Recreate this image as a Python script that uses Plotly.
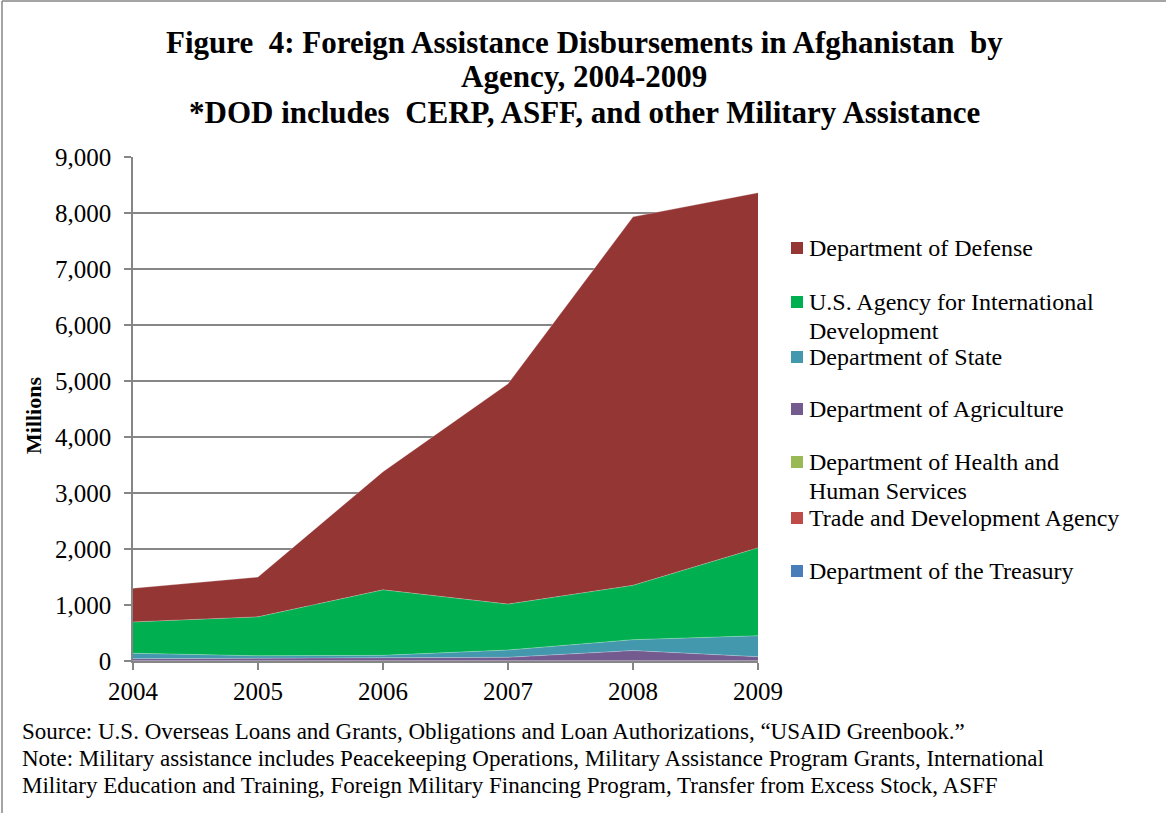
import plotly.graph_objects as go

years = [2004, 2005, 2006, 2007, 2008, 2009]
year_labels = ["2004", "2005", "2006", "2007", "2008", "2009"]

# values in millions
treasury    = [0, 0, 0, 0, 0, 0]
trade_dev   = [1, 1, 1, 1, 1, 1]
hhs         = [3, 3, 3, 3, 3, 3]
agriculture = [37, 42, 52, 62, 182, 72]
state       = [97, 48, 45, 130, 195, 375]
usaid       = [560, 695, 1170, 820, 970, 1570]
defense     = [600, 710, 2110, 3935, 6580, 6340]

y_ticks = [0, 1000, 2000, 3000, 4000, 5000, 6000, 7000, 8000, 9000]

series = [
    ("Department of the Treasury", treasury, "#4A7EBB"),
    ("Trade and Development Agency", trade_dev, "#BE4B48"),
    ("Department of Health and Human Services", hhs, "#98B954"),
    ("Department of Agriculture", agriculture, "#735A8F"),
    ("Department of State", state, "#4398AE"),
    ("U.S. Agency for International Development", usaid, "#00B050"),
    ("Department of Defense", defense, "#943634"),
]

fig = go.Figure()
for name, vals, col in series:
    fig.add_trace(go.Scatter(
        x=years, y=vals, name=name, stackgroup="one",
        mode="lines", line=dict(width=0.6, color="rgba(255,255,255,0.45)"),
        fillcolor=col, showlegend=False, hoverinfo="x+y+name"))

# plot area in pixels
L, R, T, B = 133, 758, 157, 661
W, H = 1166, 813
pw, ph = R - L, B - T

def px_x(px):
    return (px - L) / pw

def px_y(py):
    return (B - py) / ph

serif = "Liberation Serif, Times New Roman, serif"

annotations = []
shapes = []

# title lines
title_lines = [
    ("<b>Figure  4: Foreign Assistance Disbursements in Afghanistan  by</b>", 43),
    ("<b>Agency, 2004-2009</b>", 77),
    ("<b>*DOD includes  CERP, ASFF, and other Military Assistance</b>", 112),
]
for text, cy in title_lines:
    annotations.append(dict(xref="paper", yref="paper", x=px_x(584), y=px_y(cy),
                            xanchor="center", yanchor="middle",
                            text=text, showarrow=False,
                            font=dict(family=serif, size=31, color="#000000")))

# manual legend (top to bottom): (label lines, colour, marker centre y)
legend_items = [
    (["Department of Defense"], "#943634", 248),
    (["U.S. Agency for International", "Development"], "#00B050", 302),
    (["Department of State"], "#4398AE", 357),
    (["Department of Agriculture"], "#735A8F", 409),
    (["Department of Health and", "Human Services"], "#98B954", 462),
    (["Trade and Development Agency"], "#BE4B48", 518),
    (["Department of the Treasury"], "#4A7EBB", 571),
]
for lines, col, cy in legend_items:
    shapes.append(dict(type="rect", xref="paper", yref="paper",
                       x0=px_x(791), x1=px_x(803), y0=px_y(cy + 6), y1=px_y(cy - 6),
                       fillcolor=col, line=dict(width=0)))
    for i, text in enumerate(lines):
        annotations.append(dict(xref="paper", yref="paper", x=px_x(808),
                                y=px_y(cy + i * 29),
                                xanchor="left", yanchor="middle", align="left",
                                text=text, showarrow=False, borderpad=0,
                                font=dict(family=serif, size=24, color="#000000")))

# y-axis title
annotations.append(dict(xref="paper", yref="paper", x=px_x(33), y=px_y(416),
                        xanchor="center", yanchor="middle", textangle=-90,
                        text="<b>Millions</b>", showarrow=False,
                        font=dict(family=serif, size=22, color="#000000")))

# footer notes
footer = [
    ("Source: U.S. Overseas Loans and Grants, Obligations and Loan Authorizations, \u201cUSAID Greenbook.\u201d", 731),
    ("Note: Military assistance includes Peacekeeping Operations, Military Assistance Program Grants, International", 758),
    ("Military Education and Training, Foreign Military Financing Program, Transfer from Excess Stock, ASFF", 785),
]
for text, cy in footer:
    annotations.append(dict(xref="paper", yref="paper", x=px_x(21), y=px_y(cy),
                            xanchor="left", yanchor="middle", align="left",
                            text=text, showarrow=False, borderpad=0,
                            font=dict(family=serif, size=23, color="#000000")))

# chart border (top and left edges visible)
shapes.append(dict(type="line", xref="paper", yref="paper",
                   x0=px_x(2), x1=px_x(1166), y0=px_y(1), y1=px_y(1),
                   line=dict(color="#868686", width=1.5)))
shapes.append(dict(type="line", xref="paper", yref="paper",
                   x0=px_x(2), x1=px_x(2), y0=px_y(1), y1=px_y(813),
                   line=dict(color="#868686", width=1.5)))

fig.update_layout(
    width=W, height=H,
    margin=dict(l=L, r=W - R, t=T, b=H - B),
    paper_bgcolor="white", plot_bgcolor="white",
    xaxis=dict(range=[2004, 2009], tickvals=years, ticktext=year_labels,
               showgrid=False, showline=True, linecolor="#868686", linewidth=1.5,
               ticks="outside", ticklen=7, tickcolor="#868686", tickwidth=1.5,
               tickfont=dict(family=serif, size=25, color="#000000"),
               zeroline=False, fixedrange=True),
    yaxis=dict(range=[0, 9000], tickvals=y_ticks, tickformat=",",
               showgrid=True, gridcolor="#868686", gridwidth=1.5,
               showline=True, linecolor="#868686", linewidth=1.5,
               ticks="outside", ticklen=7, tickcolor="#868686", tickwidth=1.5,
               tickfont=dict(family=serif, size=25, color="#000000"),
               ticklabelstandoff=8,
               zeroline=False, fixedrange=True),
    annotations=annotations, shapes=shapes,
    showlegend=False,
)

fig.write_html("out.html")
